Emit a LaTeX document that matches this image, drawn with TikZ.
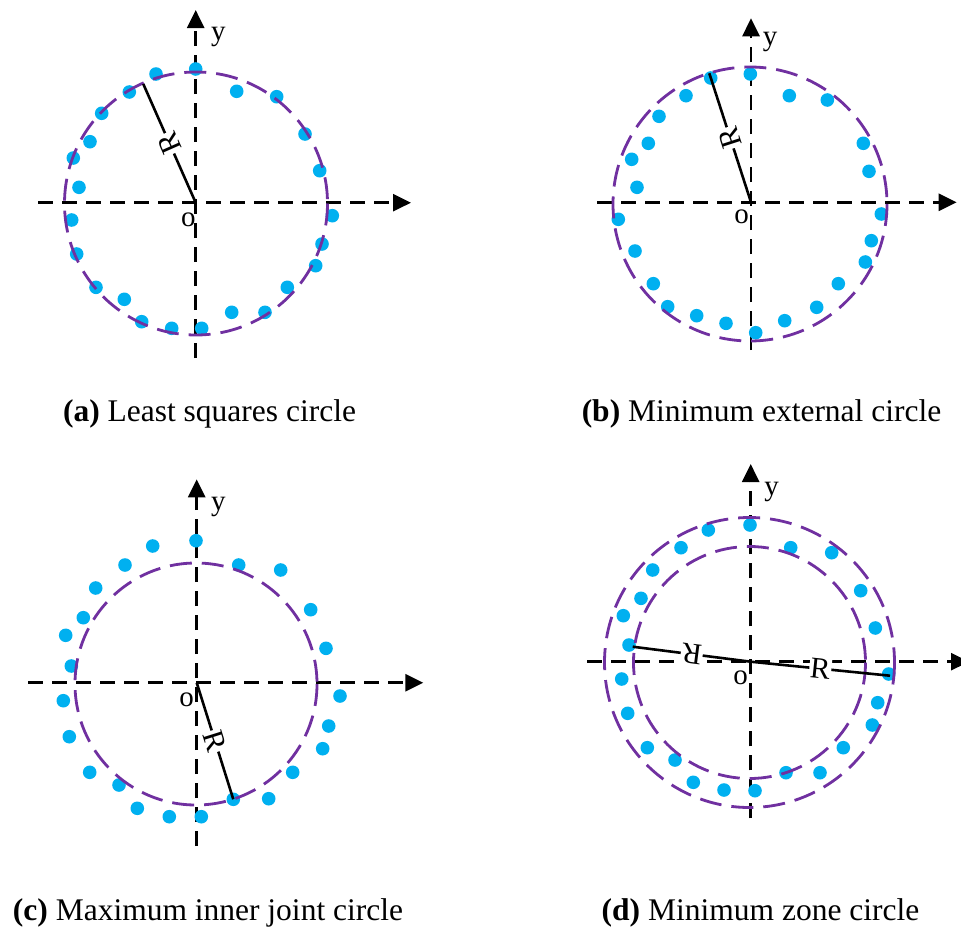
\documentclass[tikz,border=0pt]{standalone}
\usepackage{fontspec}
\setmainfont{Liberation Serif}
\usepackage{xcolor}
\usetikzlibrary{arrows.meta}

\definecolor{dotblue}{RGB}{0,176,240}
\definecolor{ringpurple}{RGB}{112,48,160}

\begin{document}
\begin{tikzpicture}[
    x=1pt, y=-1pt,
    axis/.style={black, line width=2.8pt, dash pattern=on 15pt off 9pt, -{Triangle[length=18pt, width=17pt]}},
    ring/.style={ringpurple, line width=2.8pt, dash pattern=on 22pt off 10pt},
    dot/.style={dotblue},
    rline/.style={black, line width=2.6pt},
    rlab/.style={font=\fontsize{30}{32}\selectfont, fill=white, inner sep=1pt, midway, sloped, allow upside down},
    axlab/.style={font=\fontsize{29}{31}\selectfont, inner sep=0pt},
    caption/.style={font=\fontsize{31.5}{34}\selectfont, anchor=base, inner sep=0pt},
]
\useasboundingbox (0,0) rectangle (961,929);
\clip (0,0) rectangle (961,929);

% (a) Least squares circle
\coordinate (Oa) at (195.7,202.7);
\coordinate (Ra) at (143.3,84);
\draw[axis] (38,202.7) -- (411,202.7);
\draw[axis] (195.7,358) -- (195.7,10);
\foreach \px/\py in {195.7/69, 156/74, 129.3/92, 101.7/113.3, 90/141.7, 73.3/158,
    79/187.3, 71.7/220, 76.7/254, 96/287.3, 124.3/299.3, 141.7/321.7,
    171.7/328.3, 201.7/328.3, 231.7/312.3, 265/312.3, 287.3/287.3, 315.7/265.7,
    322/244, 332.3/215.7, 319.7/170.7, 305/134, 276.7/96.7, 236.7/91.3}
  \fill[dot] (\px,\py) circle[radius=6.8];
\draw[ring] (196,203.5) circle[radius=131.5];
\draw[rline] (Oa) -- (Ra) node[rlab] (rA) {R};
\node[axlab] (yA) at (218.3,37.3) {y};
\node[axlab] (oA) at (188.3,220) {o};
\node[caption] (capA) at (209.5,421.5) {\textbf{(a)} Least squares circle};

% (b) Minimum external circle
\coordinate (Ob) at (751,202.3);
\coordinate (Rb) at (709.3,73.3);
\draw[axis] (597.3,202.3) -- (956.7,202.3);
\draw[axis] (751,350) -- (751,18.3);
\foreach \px/\py in {750.3/74, 710.7/78, 686/95.7, 659/116.3, 648.3/143.3, 631.7/159.3,
    637/187.3, 618.3/219.3, 635/251, 653.3/283.7, 667.7/306.7, 696.7/315.7,
    726/323.3, 755.7/332.7, 784.7/320.7, 816.7/307.3, 838.3/283.7, 865.3/262,
    871.3/240.7, 881.3/214, 869/171.3, 863.3/143.3, 827.3/100, 789.3/95.7}
  \fill[dot] (\px,\py) circle[radius=6.8];
\draw[ring] (750,204) circle[radius=137];
\draw[rline] (Ob) -- (Rb) node[rlab] (rB) {R};
\node[axlab] (yB) at (770,41.7) {y};
\node[axlab] (oB) at (741.7,217.3) {o};
\node[caption] (capB) at (761.5,421.5) {\textbf{(b)} Minimum external circle};

% (c) Maximum inner joint circle
\coordinate (Oc) at (196.7,682.7);
\coordinate (Rc) at (233.3,799.3);
\draw[axis] (28.3,682.7) -- (423.3,682.7);
\draw[axis] (196.7,846) -- (196.7,479.3);
\foreach \px/\py in {196/540.7, 152.7/546, 125/565, 95.7/588, 83.3/617.7, 65.7/635.3,
    71.3/666, 63.3/700.7, 69.3/736.7, 89.7/772.3, 119/785, 137.3/808.3,
    169.3/816.7, 201.3/816.7, 233.3/799.3, 268.7/798.7, 292.7/772.3, 322.7/748.7,
    328.7/726, 340/696, 326/648.3, 310.7/609.7, 280.7/570, 238.7/565}
  \fill[dot] (\px,\py) circle[radius=6.8];
\draw[ring] (196,684) circle[radius=121];
\draw[rline] (Oc) -- (Rc) node[rlab] (rC) {R};
\node[axlab] (yC) at (218.3,507.3) {y};
\node[axlab] (oC) at (186.7,700) {o};
\node[caption] (capC) at (208,920.5) {\textbf{(c)} Maximum inner joint circle};

% (d) Minimum zone circle
\coordinate (Od) at (750.7,661.7);
\coordinate (Rdl) at (632.7,646.7);
\coordinate (Rdr) at (890,675.7);
\draw[axis] (587.3,661.7) -- (969,661.7);
\draw[axis] (750.7,818.3) -- (750.7,464);
\foreach \px/\py in {750/525, 708.3/530, 681/547.7, 652.7/570, 641/598.3, 623.3/615.7,
    629/645, 621.7/679, 627.7/713.3, 647.3/747.7, 675/760, 693.3/782.3,
    724/790, 755/790.7, 786/772.7, 820/772.7, 843.3/747.7, 872.3/725,
    877.7/702.7, 888.7/674, 875.3/628, 860.7/590.7, 831.7/552.7, 790.7/547.7}
  \fill[dot] (\px,\py) circle[radius=6.8];
\draw[ring] (749.5,662.5) circle[radius=145];
\draw[ring] (749.5,662.5) circle[radius=116];
\draw[rline] (Od) -- (Rdl) node[rlab] (rDl) {R};
\draw[rline] (Od) -- (Rdr) node[rlab] (rDr) {R};
\node[axlab] (yD) at (771.7,491.7) {y};
\node[axlab] (oD) at (740.7,677.3) {o};
\node[caption] (capD) at (760.5,920.5) {\textbf{(d)} Minimum zone circle};

\end{tikzpicture}
\end{document}
